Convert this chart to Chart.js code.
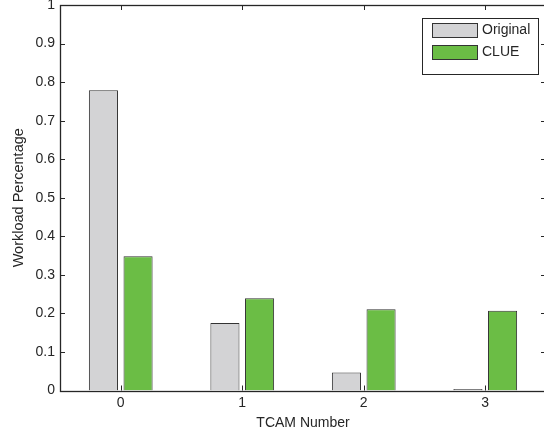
<!DOCTYPE html>
<html>
<head>
<meta charset="utf-8">
<script src="https://cdn.jsdelivr.net/npm/chart.js@4/dist/chart.umd.min.js"></script>
<style>
  html, body { margin: 0; padding: 0; background: #fff; overflow: hidden; }
  #wrap { width: 550px; height: 432px; }
</style>
</head>
<body>
<div id="wrap"><canvas id="c" width="550" height="432"></canvas></div>
<script>
// TCAM workload share, original scheme vs. CLUE
const categories = ['0', '1', '2', '3'];
const originalValues = [0.779, 0.175, 0.047, 0.004];
const clueValues = [0.348, 0.239, 0.211, 0.207];
const yTicks = [0, 0.1, 0.2, 0.3, 0.4, 0.5, 0.6, 0.7, 0.8, 0.9, 1];

const FONT = 'Liberation Sans, Arial, Helvetica, sans-serif';
const AXIS_COLOR = '#262626';

// Frame box, inward tick marks and the boxed legend
const framePlugin = {
  id: 'frame',
  afterDatasetsDraw(chart) {
    const { ctx, chartArea: a, scales } = chart;
    const tl = 5;
    ctx.save();
    ctx.strokeStyle = AXIS_COLOR;
    ctx.lineWidth = 1;
    ctx.beginPath();
    yTicks.forEach(v => {
      const y = Math.round(scales.y.getPixelForValue(v)) + 0.5;
      ctx.moveTo(a.left, y); ctx.lineTo(a.left + tl, y);
      ctx.moveTo(a.right, y); ctx.lineTo(a.right - tl, y);
    });
    categories.forEach((c, i) => {
      const x = Math.round(scales.x.getPixelForValue(i)) + 0.5;
      ctx.moveTo(x, a.bottom); ctx.lineTo(x, a.bottom - tl);
      ctx.moveTo(x, a.top); ctx.lineTo(x, a.top + tl);
    });
    ctx.stroke();
    ctx.lineWidth = 1.3;
    ctx.strokeRect(Math.round(a.left) + 0.5, Math.round(a.top) + 0.5,
                   Math.round(a.right - a.left), Math.round(a.bottom - a.top));

    // legend
    const lx = 422, ly = 18, lw = 116, lh = 56;
    ctx.fillStyle = '#fff';
    ctx.fillRect(lx, ly, lw, lh);
    ctx.lineWidth = 1;
    ctx.strokeStyle = AXIS_COLOR;
    ctx.strokeRect(lx + 0.5, ly + 0.5, lw, lh);
    ctx.font = '14px ' + FONT;
    ctx.textBaseline = 'middle';
    chart.data.datasets.forEach((ds, i) => {
      const sy = 23 + i * 22;
      ctx.fillStyle = ds.backgroundColor;
      ctx.fillRect(432, sy, 45, 14);
      ctx.strokeStyle = '#333';
      ctx.strokeRect(432.5, sy + 0.5, 45, 14);
      ctx.fillStyle = AXIS_COLOR;
      ctx.fillText(ds.label, 482, sy + 7.5);
    });
    ctx.restore();
  }
};

new Chart(document.getElementById('c'), {
  type: 'bar',
  data: {
    labels: categories,
    datasets: [
      {
        label: 'Original',
        data: originalValues,
        backgroundColor: '#d3d3d5',
        borderColor: '#333333',
        borderWidth: 1
      },
      {
        label: 'CLUE',
        data: clueValues,
        backgroundColor: '#6bbd45',
        borderColor: '#333333',
        borderWidth: 1
      }
    ]
  },
  options: {
    responsive: false,
    animation: false,
    layout: { padding: { top: 5, right: 4, left: 0, bottom: 0 } },
    datasets: { bar: { categoryPercentage: 0.57, barPercentage: 0.84 } },
    plugins: {
      legend: { display: false },
      tooltip: { enabled: false }
    },
    scales: {
      x: {
        type: 'category',
        offset: true,
        grid: { display: false, drawTicks: false },
        border: { display: false },
        ticks: { color: AXIS_COLOR, font: { family: FONT, size: 14 }, padding: 4 },
        title: { display: true, text: 'TCAM Number', color: AXIS_COLOR, font: { family: FONT, size: 14 }, padding: { top: 1, bottom: 0 } },
        afterFit(scale) { scale.height = 41.5; scale.paddingLeft = 0; scale.paddingRight = 0; }
      },
      y: {
        min: 0,
        max: 1,
        grid: { display: false, drawTicks: false },
        border: { display: false },
        ticks: {
          stepSize: 0.1,
          color: AXIS_COLOR,
          font: { family: FONT, size: 14 },
          padding: 5,
          callback: v => String(Math.round(v * 10) / 10)
        },
        title: { display: true, text: 'Workload Percentage', color: AXIS_COLOR, font: { family: FONT, size: 14.5 }, padding: { top: 10, bottom: 0 } },
        afterFit(scale) { scale.width = 60; scale.paddingTop = 0; scale.paddingBottom = 0; }
      }
    }
  },
  plugins: [framePlugin]
});
</script>
</body>
</html>
